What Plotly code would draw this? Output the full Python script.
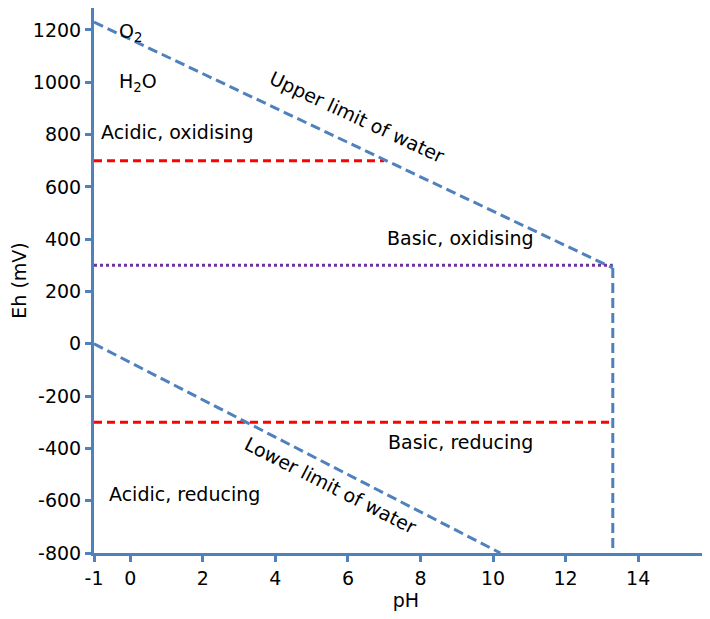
import plotly.graph_objects as go

# ---- data (pH, Eh in mV) ----
upper_ph = [-1, 13.3]
upper_eh = [1230, 290]
vert_ph = [13.3, 13.3]
vert_eh = [290, -800]
lower_ph = [-1, 10.2]
lower_eh = [0, -800]
red_hi_ph = [-1, 7.0]
red_hi_eh = [700, 700]
red_lo_ph = [-1, 13.3]
red_lo_eh = [-300, -300]
purple_ph = [-1, 13.3]
purple_eh = [300, 300]

x_ticks = [-1, 0, 2, 4, 6, 8, 10, 12, 14]
y_ticks = [-800, -600, -400, -200, 0, 200, 400, 600, 800, 1000, 1200]

BLUE = "#4F81BD"
RED = "#FF0000"
PURPLE = "#7030A0"
FONT = "DejaVu Sans"
FS = 19

fig = go.Figure()

def seg(x, y, color, dash, width=3):
    fig.add_trace(go.Scatter(x=x, y=y, mode="lines",
                             line=dict(color=color, width=width, dash=dash),
                             hoverinfo="skip", showlegend=False))

seg(red_hi_ph, red_hi_eh, RED, "8px,5px")
seg(red_lo_ph, red_lo_eh, RED, "8px,5px")
seg(purple_ph, purple_eh, PURPLE, "3px,3px")
seg(upper_ph, upper_eh, BLUE, "10px,5px")
seg(vert_ph, vert_eh, BLUE, "10px,5px")
seg(lower_ph, lower_eh, BLUE, "10px,5px")

tf = dict(family=FONT, size=FS, color="black")
annots = [
    dict(x=-0.37, y=1190, text="O<sub>2</sub>", xanchor="left"),
    dict(x=-0.37, y=1000, text="H<sub>2</sub>O", xanchor="left"),
    dict(x=-0.86, y=810, text="Acidic, oxidising", xanchor="left"),
    dict(x=6.26, y=867, text="Upper limit of water", textangle=25),
    dict(x=9.1, y=405, text="Basic, oxidising"),
    dict(x=9.1, y=-376, text="Basic, reducing"),
    dict(x=-0.64, y=-574, text="Acidic, reducing", xanchor="left"),
    dict(x=5.51, y=-540, text="Lower limit of water", textangle=27),
]
for a in annots:
    a.setdefault("xanchor", "center")
    fig.add_annotation(showarrow=False, font=tf, yanchor="middle", **a)

fig.update_layout(
    width=710, height=619,
    margin=dict(l=86, r=0, t=0, b=74),
    plot_bgcolor="white", paper_bgcolor="white",
    font=dict(family=FONT, size=FS, color="black"),
    showlegend=False,
)
fig.update_xaxes(
    range=[-1, 16.2], tickvals=x_ticks, ticktext=[str(v) for v in x_ticks],
    showgrid=False, zeroline=False, showline=True, linecolor=BLUE, linewidth=3,
    ticks="outside", ticklen=6, tickwidth=3, tickcolor=BLUE, automargin=False,
    tickfont=dict(family=FONT, size=FS), title=dict(text="pH", font=dict(family=FONT, size=FS), standoff=5),
)
fig.update_yaxes(
    range=[-800, 1284], tickvals=y_ticks, ticktext=[str(v) for v in y_ticks],
    showgrid=False, zeroline=False, showline=True, linecolor=BLUE, linewidth=3,
    ticks="outside", ticklen=6, tickwidth=3, tickcolor=BLUE, automargin=False,
    tickfont=dict(family=FONT, size=FS), title=dict(text="Eh (mV)", font=dict(family=FONT, size=FS), standoff=6),
)

fig.write_html("out.html")
